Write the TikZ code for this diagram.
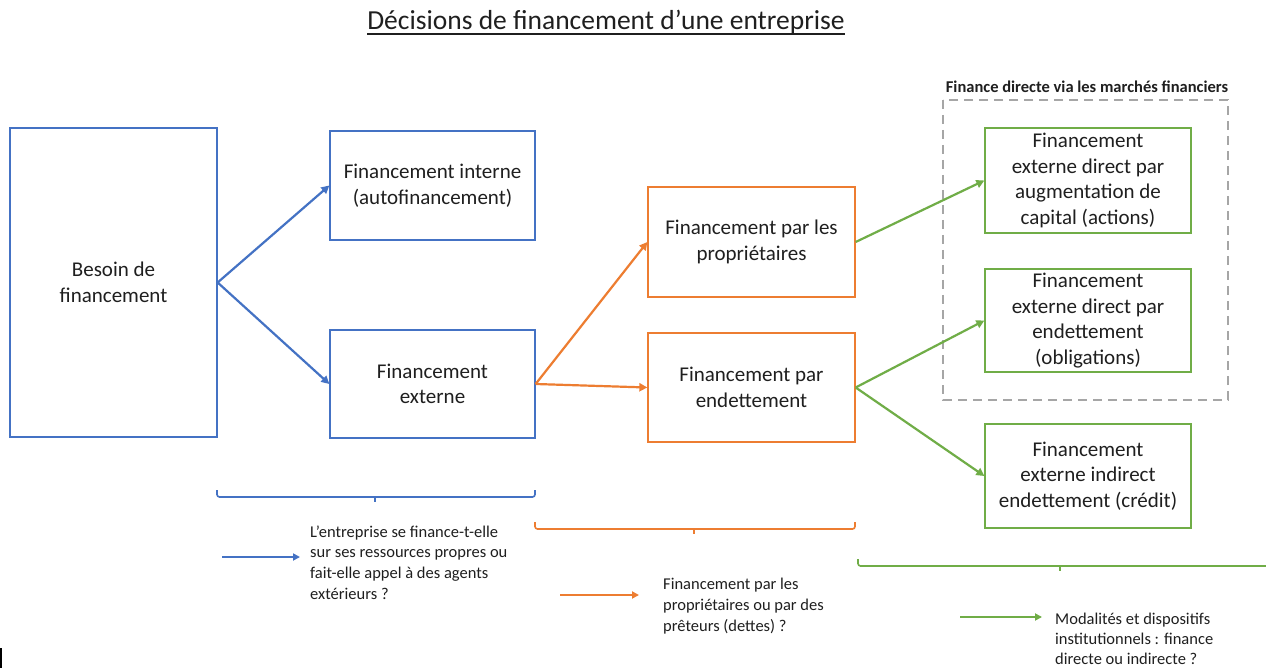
\documentclass[tikz,border=0pt]{standalone}
\usepackage{fontspec}
\setmainfont{Carlito}
\usetikzlibrary{arrows.meta}
\definecolor{cblue}{HTML}{4472C4}
\definecolor{corange}{HTML}{ED7D31}
\definecolor{cgreen}{HTML}{70AD47}
\definecolor{cgray}{HTML}{A6A6A6}
\definecolor{txt}{HTML}{1F1F1F}
\begin{document}
\begin{tikzpicture}[x=1pt,y=-1pt,
  box/.style={draw, line width=1.3pt, inner sep=0pt, align=center, text=txt,
    font=\fontsize{21}{25.5}\selectfont},
  conn/.style={line width=2.2pt, -{Triangle[length=8pt,width=8pt]}},
  legconn/.style={line width=2.2pt, -{Triangle[length=7pt,width=7pt]}},
  brace/.style={line width=1.6pt, rounded corners=2.5pt},
  legtext/.style={anchor=west, inner sep=0pt, align=left, text=txt,
    font=\fontsize{16.5}{20.8}\selectfont}]
\clip (0,0) rectangle (1266,668);
\fill[white] (0,0) rectangle (1266,668);

% title
\node[text=txt, inner sep=0pt, font=\fontsize{27.5}{32}\selectfont] (title) at (606,22) {Décisions de financement d’une entreprise};
\draw[txt, line width=1.8pt] ([yshift=-4.5pt]title.base west) -- ([yshift=-4.5pt]title.base east);

% dashed group
\draw[cgray, line width=1.8pt, dash pattern=on 9pt off 6pt] (943,100) rectangle (1228,400);
\node[text=txt, inner sep=0pt, font=\bfseries\fontsize{16.5}{19}\selectfont] (grp) at (1087,87) {Finance directe via les marchés financiers};

% boxes
\node[box, cblue, text=txt, minimum width=207pt, minimum height=309pt] (besoin) at (113.5,282.5) {Besoin de\\financement};
\node[box, cblue, text=txt, minimum width=205pt, minimum height=109pt] (interne) at (432.5,185.5) {Financement interne\\(autofinancement)};
\node[box, cblue, text=txt, minimum width=205pt, minimum height=108pt] (externe) at (432.5,384) {Financement\\externe};
\node[box, corange, text=txt, minimum width=207pt, minimum height=110pt] (proprio) at (751.5,242) {Financement par les\\propriétaires};
\node[box, corange, text=txt, minimum width=207pt, minimum height=109pt] (endet) at (751.5,387.5) {Financement par\\endettement};
\node[box, cgreen, text=txt, minimum width=206pt, minimum height=105pt] (g1) at (1088,180.5) {Financement\\externe direct par\\augmentation de\\capital (actions)};
\node[box, cgreen, text=txt, minimum width=206pt, minimum height=103pt] (g2) at (1088,320.5) {Financement\\externe direct par\\endettement\\(obligations)};
\node[box, cgreen, text=txt, minimum width=206pt, minimum height=104pt] (g3) at (1088,476) {Financement\\externe indirect\\endettement (crédit)};

% connectors
\draw[conn, cblue] (besoin.east) -- (interne.west);
\draw[conn, cblue] (besoin.east) -- (externe.west);
\draw[conn, corange] (externe.east) -- (proprio.west);
\draw[conn, corange] (externe.east) -- (endet.west);
\draw[conn, cgreen] (proprio.east) -- (g1.west);
\draw[conn, cgreen] (endet.east) -- (g2.west);
\draw[conn, cgreen] (endet.east) -- (g3.west);

% braces
\draw[brace, cblue] (217,490) -- (217,497) -- (535,497) -- (535,490);
\draw[cblue, line width=1.6pt] (375,497) -- (375,502);
\draw[brace, corange] (535,522) -- (535,529) -- (855,529) -- (855,522);
\draw[corange, line width=1.6pt] (694,529) -- (694,534);
\draw[brace, cgreen] (858,559) -- (858,566) -- (1280,566);
\draw[cgreen, line width=1.6pt] (1060,566) -- (1060,571);

% legend
\coordinate (lb1) at (222,557); \coordinate (lb2) at (300,557);
\draw[legconn, cblue] (lb1) -- (lb2);
\node[legtext] (tb) at (310,562.5) {L’entreprise se finance-t-elle\\sur ses ressources propres ou\\fait-elle appel à des agents\\extérieurs ?};
\coordinate (lo1) at (560,595); \coordinate (lo2) at (639,595);
\draw[legconn, corange] (lo1) -- (lo2);
\node[legtext] (to) at (663,606) {Financement par les\\propriétaires ou par des\\prêteurs (dettes) ?};
\coordinate (lg1) at (960,617); \coordinate (lg2) at (1042,617);
\draw[legconn, cgreen] (lg1) -- (lg2);
\node[legtext, font=\fontsize{16.5}{20}\selectfont] (tg) at (1055,638.5) {Modalités et dispositifs\\institutionnels : finance\\directe ou indirecte ?};

% small mark bottom-left
\coordinate (m1) at (1,648); \coordinate (m2) at (1,668);
\draw[black, line width=1.5pt] (m1) -- (m2);
\end{tikzpicture}
\end{document}
